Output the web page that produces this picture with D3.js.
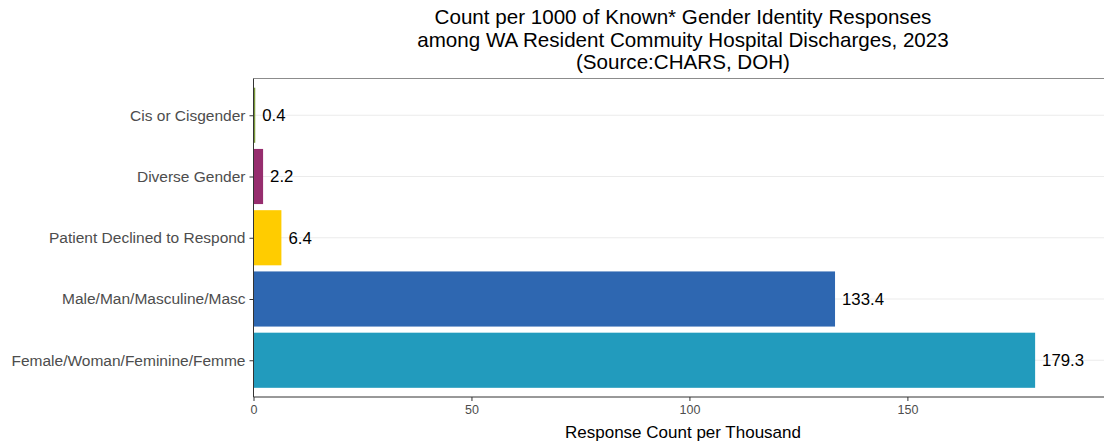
<!DOCTYPE html>
<html>
<head>
<meta charset="utf-8">
<script src="https://cdn.jsdelivr.net/npm/d3@7"></script>
<style>
  body { margin: 0; background: #fff; }
  svg { font-family: "Liberation Sans", Arial, sans-serif; display: block; }
  .axis path, .axis line { stroke: #333; }
  .axis text { fill: #4d4d4d; }
</style>
</head>
<body>
<div id="chart"></div>
<script>

var categories = ['Cis or Cisgender', 'Diverse Gender', 'Patient Declined to Respond',
  'Male/Man/Masculine/Masc', 'Female/Woman/Feminine/Femme'];
var values = [0.4, 2.2, 6.4, 133.4, 179.3];
var colors = ['#7a9a3a', '#962d6e', '#ffcc00', '#2e67b1', '#229bbd'];
var xTicks = [0, 50, 100, 150];
var titleLines = ['Count per 1000 of Known* Gender Identity Responses',
  'among WA Resident Commuity Hospital Discharges, 2023',
  '(Source:CHARS, DOH)'];

var settings = { width: 1104, height: 442, left: 253.5, right: 0, top: 78.5, bottom: 45 };

var svg = d3.select('#chart').append('svg')
  .attr('width', settings.width)
  .attr('height', settings.height);

var plotW = settings.width - settings.left - settings.right;
var plotH = settings.height - settings.top - settings.bottom;

var scaleX = d3.scaleLinear()
  .domain([ 0, 195.1 ])
  .range([ 0, plotW ]);

var scaleY = d3.scalePoint()
  .domain( categories )
  .range([ 0, plotH ])
  .padding( 0.6 );

var barH = scaleY.step() * 0.9;

var panel = svg.append('g')
  .attr('transform', 'translate(' + settings.left + ',' + settings.top + ')');

// horizontal grid lines
panel.selectAll('.grid')
  .data( categories )
  .enter()
  .append('line')
  .attr('x1', 0)
  .attr('x2', plotW)
  .attr('y1', function(d) { return scaleY(d) })
  .attr('y2', function(d) { return scaleY(d) })
  .attr('stroke', '#ebebeb')
  .attr('stroke-width', 1.1);

// top border
panel.append('line')
  .attr('x1', 0).attr('x2', plotW)
  .attr('y1', 0).attr('y2', 0)
  .attr('stroke', '#8c8c8c');

panel.selectAll('.bar')
  .data( values )
  .enter()
  .append('rect')
  .classed('bar', true)
  .attr('x', 0)
  .attr('y', function(d, i) { return scaleY(categories[i]) - barH / 2 })
  .attr('width', function(d) { return scaleX(d) })
  .attr('height', barH)
  .attr('fill', function(d, i) { return colors[i] });

panel.selectAll('.val')
  .data( values )
  .enter()
  .append('text')
  .attr('x', function(d) { return scaleX(d) + 7 })
  .attr('y', function(d, i) { return scaleY(categories[i]) })
  .attr('dy', '0.35em')
  .attr('font-size', 16.8)
  .attr('fill', '#000')
  .text(function(d) { return d.toFixed(1) });

var axisY = d3.axisLeft( scaleY ).tickSize( 4 ).tickPadding( 4 );
var gy = panel.append('g').classed('axis', true).call( axisY );
gy.selectAll('text').attr('font-size', 15.5);
gy.select('.domain').attr('d', 'M0,0V' + plotH).attr('stroke', '#333');

var axisX = d3.axisBottom( scaleX ).tickValues( xTicks ).tickSize( 4 ).tickPadding( 4 );
var gx = panel.append('g').classed('axis', true)
  .attr('transform', 'translate(0,' + plotH + ')')
  .call( axisX );
gx.selectAll('text').attr('font-size', 12.5);
gx.select('.domain').attr('d', 'M0,0H' + plotW).attr('stroke', '#333');

svg.append('text')
  .attr('x', 683)
  .attr('y', 438)
  .attr('text-anchor', 'middle')
  .attr('font-size', 17)
  .attr('fill', '#000')
  .text('Response Count per Thousand');

svg.selectAll('.title')
  .data( titleLines )
  .enter()
  .append('text')
  .attr('x', 683)
  .attr('y', function(d, i) { return 24 + i * 22.5 })
  .attr('text-anchor', 'middle')
  .attr('font-size', 20.6)
  .attr('fill', '#000')
  .text(function(d) { return d });
</script>
</body>
</html>
